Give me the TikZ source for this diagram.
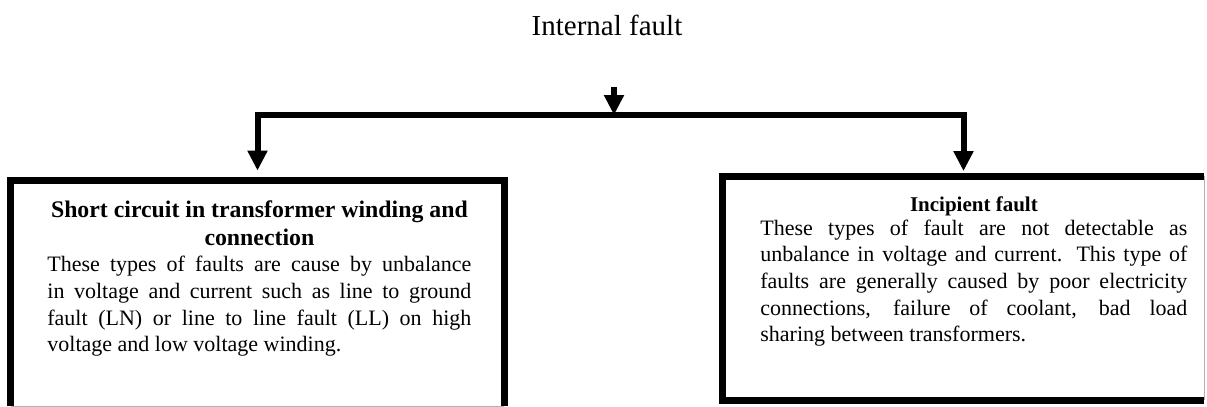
\documentclass[tikz,border=0pt]{standalone}
\usepackage{fontspec}
\setmainfont{Liberation Serif}
\usetikzlibrary{arrows.meta}
\tolerance=10000
\hbadness=10000
\hfuzz=5pt

\newcommand{\bodyjustify}{\leftskip=0pt\rightskip=0pt\parfillskip=0pt plus 1fil\relax}

\begin{document}
\begin{tikzpicture}[x=0.5pt, y=-0.5pt,
  box/.style={rectangle, inner sep=0pt},
  frame/.style={line width=3.5pt},
  edge/.style={draw=gray!60, line width=0.6pt},
  boxtext/.style={anchor=base west, inner sep=0pt, align=justify, font=\fontsize{11}{13.35}\selectfont},
  title/.style={anchor=base, inner sep=0pt, font=\fontsize{14.5}{17}\selectfont},
  arrow/.style={-{Triangle[length=10pt, width=9.5pt]}, line width=3pt}
]
\useasboundingbox (0,0) rectangle (1207,407);

% Title
\node[title] (internal) at (607,35) {Internal fault};

% Boxes
\node[box, minimum width=246.5pt, minimum height=112.5pt] (short) at (257.5,293.5) {};
\node[box, minimum width=240.5pt, minimum height=111.75pt] (incip) at (963.5,288.25) {};

\draw[frame] (short.south west) |- (short.north east) -- (short.south east);
\draw[edge] (short.south west) -- (short.south east);
\draw[frame] (incip.north east) -| (incip.south west) -- (incip.south east);
\draw[edge] (incip.north east) -- (incip.south east);

% Box texts
\node[boxtext, text width=212pt] (shorttext) at (47,217) {%
  {\centering\bfseries\fontsize{11.9}{14}\selectfont Short circuit in transformer winding and\par connection\par}
  \bodyjustify
  These types of faults are cause by unbalance\linebreak
  in voltage and current such as line to ground\linebreak
  fault (LN) or line to line fault (LL) on high\linebreak
  voltage and low voltage winding.};

\node[boxtext, text width=213.5pt] (incitext) at (760,211) {%
  {\centering\bfseries\fontsize{10.5}{12}\selectfont Incipient fault\par}
  \vspace{-1.35pt}
  \bodyjustify
  These types of fault are not detectable as\linebreak
  unbalance in voltage and current. This type of\linebreak
  faults are generally caused by poor electricity\linebreak
  connections, failure of coolant, bad load\linebreak
  sharing between transformers.};

% Connections
\coordinate (stem) at (614,87);
\coordinate (split) at (614,115);
\draw[arrow] (stem) -- (split);
\draw[arrow, shorten >=5pt] (split) -| (short.north);
\draw[arrow, shorten >=2.5pt] (split) -| (incip.north);

\end{tikzpicture}
\end{document}
